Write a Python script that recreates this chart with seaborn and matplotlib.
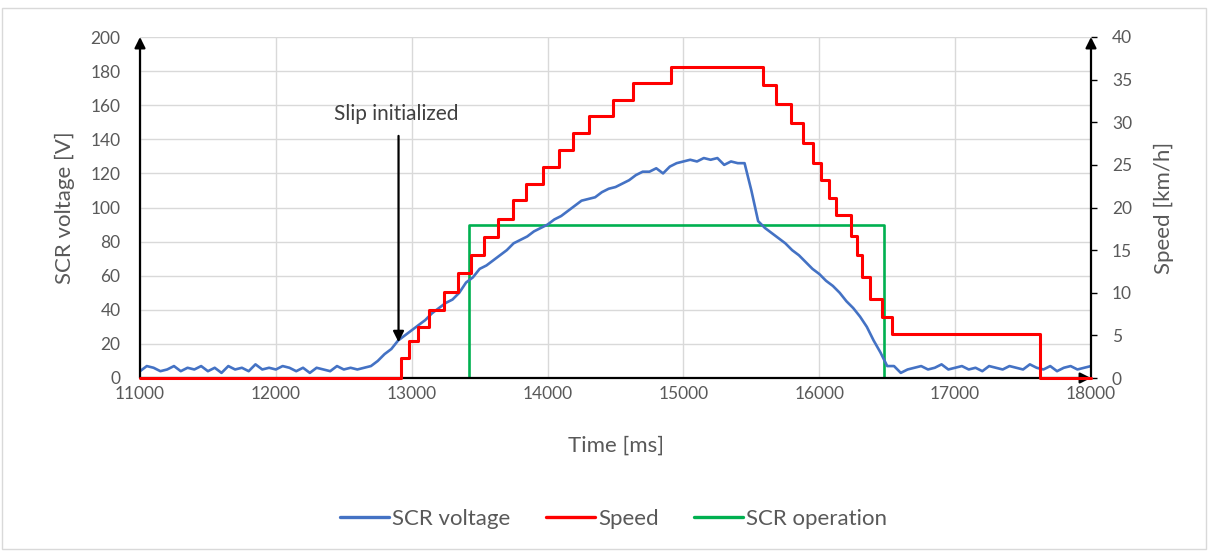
import numpy as np
import pandas as pd
import matplotlib
matplotlib.use("Agg")
import matplotlib.pyplot as plt
from matplotlib.patches import Rectangle
from matplotlib.lines import Line2D
import seaborn as sns

# ---------------- data ----------------
volt_start_ms = 11000
volt_step_ms = 50
scr_voltage = (
    # 11000 .. 12650
    [4, 7, 6, 4, 5, 7, 4, 6, 5, 7, 4, 6, 3, 7, 5, 6, 4, 8, 5, 6,
     5, 7, 6, 4, 6, 3, 6, 5, 4, 7, 5, 6, 5, 6]
    # 12700 .. 15450
    + [7, 10, 14, 17, 22, 25, 28, 31, 34, 38, 41, 44, 46, 50, 56, 59, 64, 66, 69, 72,
       75, 79, 81, 83, 86, 88, 90, 93, 95, 98, 101, 104, 105, 106, 109, 111, 112, 114, 116, 119,
       121, 121, 123, 120, 124, 126, 127, 128, 127, 129, 128, 129, 125, 127, 126, 126]
    # 15500 .. 16600
    + [110, 92, 88, 85, 82, 79, 75, 72, 68, 64, 61, 57, 54, 50, 45, 41, 36, 30, 22, 15,
       7, 7, 3]
    # 16650 .. 18000
    + [5, 6, 7, 5, 6, 8, 5, 6, 7, 5, 6, 4, 7, 6, 5, 7, 6, 5, 8, 6,
       5, 7, 4, 6, 7, 5, 6, 7]
)
volt_time = volt_start_ms + volt_step_ms * np.arange(len(scr_voltage))

speed_time = [11000, 12918, 12977, 13043, 13124, 13235, 13338, 13434, 13530, 13633,
              13744, 13840, 13965, 14083, 14187, 14305, 14485, 14629, 14909, 15588,
              15684, 15795, 15883, 15957, 16016, 16075, 16126, 16237, 16274, 16311,
              16370, 16458, 16532, 17624, 18000]
speed_kmh = [0, 2.3, 4.3, 6.0, 8.0, 10.1, 12.3, 14.4, 16.5, 18.7,
             20.9, 22.8, 24.8, 26.7, 28.7, 30.7, 32.6, 34.6, 36.5, 34.4,
             32.1, 29.9, 27.6, 25.2, 23.2, 21.1, 19.1, 16.6, 14.4, 11.9,
             9.3, 7.2, 5.2, 0, 0]

op_time = [11000, 13420, 16480, 18000]
op_value = [0, 90, 0, 0]

x_ticks = [11000, 12000, 13000, 14000, 15000, 16000, 17000, 18000]
v_ticks = [0, 20, 40, 60, 80, 100, 120, 140, 160, 180, 200]
s_ticks = [0, 5, 10, 15, 20, 25, 30, 35, 40]

series_names = ["SCR voltage", "Speed", "SCR operation"]
colors = ["#4472C4", "#FF0000", "#00B050"]

slip_time = 12903
slip_label = "Slip initialized"

# ---------------- style ----------------
sns.set_theme(style="white")
plt.rcParams["font.family"] = ["Lato", "DejaVu Sans"]
txt = "#595959"

fig = plt.figure(figsize=(12.08, 5.51), dpi=100)
ax = fig.add_axes([140 / 1208, 1 - 378 / 551, (1091 - 140) / 1208, (378 - 37) / 551])
ax2 = ax.twinx()

df_v = pd.DataFrame({"t": volt_time, "v": scr_voltage})
df_s = pd.DataFrame({"t": speed_time, "s": speed_kmh})
df_o = pd.DataFrame({"t": op_time, "o": op_value})

sns.lineplot(data=df_o, x="t", y="o", ax=ax, color=colors[2], lw=1.9,
             drawstyle="steps-post", estimator=None, zorder=2)
sns.lineplot(data=df_v, x="t", y="v", ax=ax, color=colors[0], lw=1.9,
             estimator=None, zorder=3)
sns.lineplot(data=df_s, x="t", y="s", ax=ax2, color=colors[1], lw=2.2,
             drawstyle="steps-post", estimator=None, zorder=4, clip_on=False)

ax.set_xlim(11000, 18000)
ax.set_ylim(0, 200)
ax2.set_ylim(0, 40)
ax.set_xticks(x_ticks)
ax.set_yticks(v_ticks)
ax2.set_yticks(s_ticks)

ax.grid(True, color="#d9d9d9", lw=1)
ax2.grid(False)
for a in (ax, ax2):
    for sp in a.spines.values():
        sp.set_visible(False)

ax.tick_params(axis="x", length=0, pad=6, labelsize=12.5, labelcolor=txt)
ax.tick_params(axis="y", length=0, pad=14, labelsize=12.5, labelcolor=txt)
ax2.tick_params(axis="y", length=4, width=1, color="black", direction="out",
                pad=11, labelsize=12.5, labelcolor=txt)

ax.set_xlabel("Time [ms]", fontsize=16, color=txt, labelpad=24)
ax.set_ylabel("SCR voltage [V]", fontsize=16, color=txt, labelpad=11)
ax2.set_ylabel("Speed [km/h]", fontsize=16, color=txt, labelpad=16, rotation=90)

# axis arrows
arr = dict(arrowstyle="-|>", color="black", lw=1.6, mutation_scale=16, shrinkA=0, shrinkB=0)
ax2.annotate("", xy=(0, 1.0), xytext=(0, 0), xycoords="axes fraction", arrowprops=arr, zorder=3)
ax2.annotate("", xy=(1.0, 1.0), xytext=(1.0, 0), xycoords="axes fraction", arrowprops=arr, zorder=3)
ax2.annotate("", xy=(1.0, 0), xytext=(0, 0), xycoords="axes fraction", arrowprops=arr, zorder=3)

# slip annotation
ax.text(slip_time - 20, 149, slip_label, ha="center", va="bottom", fontsize=15, color="#404040")
ax.annotate("", xy=(slip_time, 21), xytext=(slip_time, 142),
            arrowprops=dict(arrowstyle="-|>", color="black", lw=1.6, mutation_scale=16,
                            shrinkA=0, shrinkB=0), zorder=6)

# legend
handles = [Line2D([], [], color=c, lw=2.4) for c in colors]
fig.legend(handles, series_names, loc="center", bbox_to_anchor=(0.508, 1 - 519 / 551),
           ncol=3, frameon=False, fontsize=16, handlelength=2.2, handletextpad=0.15,
           columnspacing=1.6, labelcolor=txt)

fig.patches.append(Rectangle((0.002, 0.003), 0.996, 0.982, transform=fig.transFigure,
                             fill=False, edgecolor="#d9d9d9", lw=1))

fig.savefig("out.png", dpi=100)
